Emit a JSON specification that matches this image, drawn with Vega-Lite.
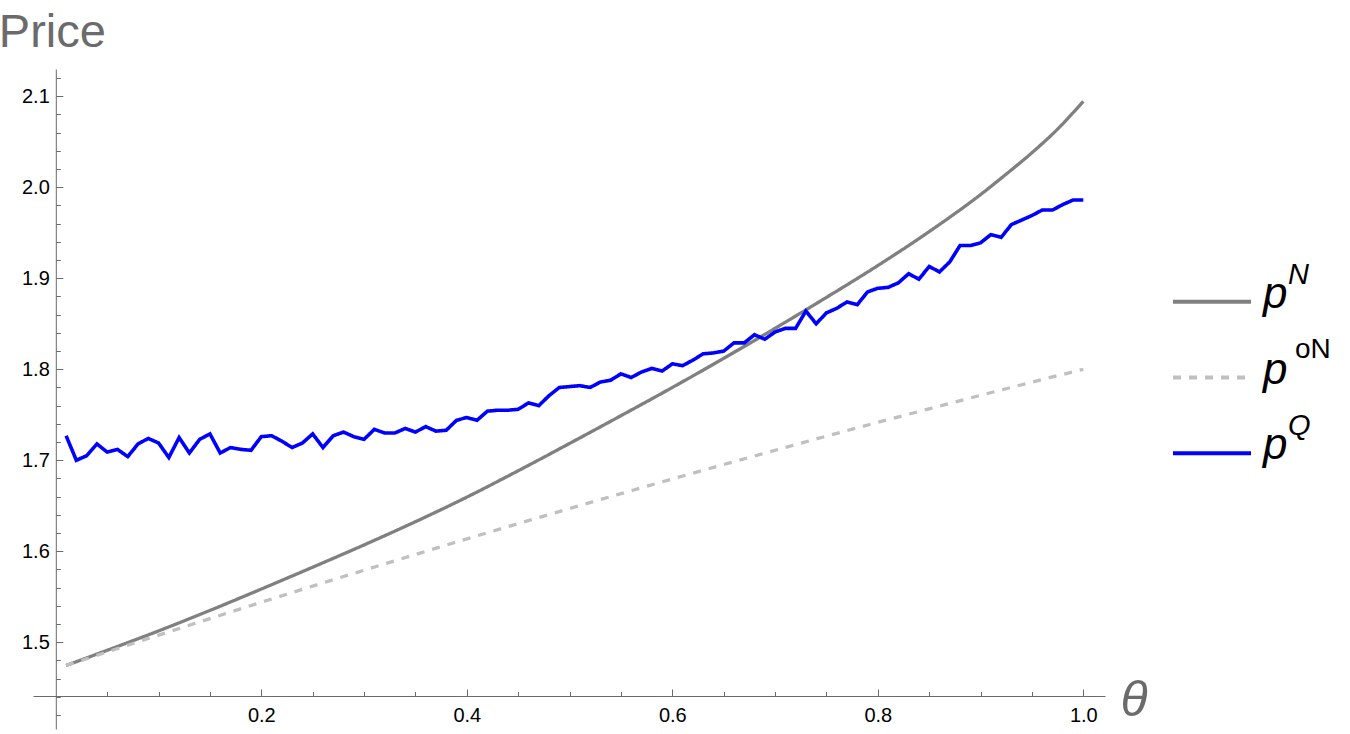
{
  "$schema": "https://vega.github.io/schema/vega-lite/v6.json",
  "width": 1072,
  "height": 660,
  "autosize": {"type": "none"},
  "padding": {"left": 33, "top": 69, "right": 245, "bottom": 5},
  "background": "white",
  "config": {"view": {"stroke": null}, "font": "Liberation Sans"},
  "datasets": {
    "curves": [
      {"series": "pN", "theta": 0.01, "price": 1.4745},
      {"series": "pN", "theta": 0.05, "price": 1.4912},
      {"series": "pN", "theta": 0.10, "price": 1.5125},
      {"series": "pN", "theta": 0.15, "price": 1.5350},
      {"series": "pN", "theta": 0.20, "price": 1.5585},
      {"series": "pN", "theta": 0.25, "price": 1.5825},
      {"series": "pN", "theta": 0.30, "price": 1.6070},
      {"series": "pN", "theta": 0.35, "price": 1.6325},
      {"series": "pN", "theta": 0.40, "price": 1.6595},
      {"series": "pN", "theta": 0.45, "price": 1.6885},
      {"series": "pN", "theta": 0.50, "price": 1.7185},
      {"series": "pN", "theta": 0.55, "price": 1.7490},
      {"series": "pN", "theta": 0.60, "price": 1.7800},
      {"series": "pN", "theta": 0.65, "price": 1.8120},
      {"series": "pN", "theta": 0.70, "price": 1.8450},
      {"series": "pN", "theta": 0.75, "price": 1.8790},
      {"series": "pN", "theta": 0.80, "price": 1.9140},
      {"series": "pN", "theta": 0.85, "price": 1.9513},
      {"series": "pN", "theta": 0.90, "price": 1.9920},
      {"series": "pN", "theta": 0.925, "price": 2.0145},
      {"series": "pN", "theta": 0.95, "price": 2.0380},
      {"series": "pN", "theta": 0.975, "price": 2.0640},
      {"series": "pN", "theta": 1.00, "price": 2.0945},
      {"series": "poN", "theta": 0.01, "price": 1.4745},
      {"series": "poN", "theta": 0.05, "price": 1.4894},
      {"series": "poN", "theta": 0.10, "price": 1.5078},
      {"series": "poN", "theta": 0.15, "price": 1.5260},
      {"series": "poN", "theta": 0.20, "price": 1.5440},
      {"series": "poN", "theta": 0.25, "price": 1.5617},
      {"series": "poN", "theta": 0.30, "price": 1.5792},
      {"series": "poN", "theta": 0.35, "price": 1.5965},
      {"series": "poN", "theta": 0.40, "price": 1.6136},
      {"series": "poN", "theta": 0.45, "price": 1.6304},
      {"series": "poN", "theta": 0.50, "price": 1.6470},
      {"series": "poN", "theta": 0.55, "price": 1.6633},
      {"series": "poN", "theta": 0.60, "price": 1.6795},
      {"series": "poN", "theta": 0.65, "price": 1.6953},
      {"series": "poN", "theta": 0.70, "price": 1.7110},
      {"series": "poN", "theta": 0.75, "price": 1.7265},
      {"series": "poN", "theta": 0.80, "price": 1.7417},
      {"series": "poN", "theta": 0.85, "price": 1.7566},
      {"series": "poN", "theta": 0.90, "price": 1.7714},
      {"series": "poN", "theta": 0.95, "price": 1.7859},
      {"series": "poN", "theta": 1.00, "price": 1.8000},
      {"series": "pQ", "theta": 0.01, "price": 1.727},
      {"series": "pQ", "theta": 0.02, "price": 1.700},
      {"series": "pQ", "theta": 0.03, "price": 1.705},
      {"series": "pQ", "theta": 0.04, "price": 1.718},
      {"series": "pQ", "theta": 0.05, "price": 1.709},
      {"series": "pQ", "theta": 0.06, "price": 1.712},
      {"series": "pQ", "theta": 0.07, "price": 1.704},
      {"series": "pQ", "theta": 0.08, "price": 1.718},
      {"series": "pQ", "theta": 0.09, "price": 1.724},
      {"series": "pQ", "theta": 0.10, "price": 1.719},
      {"series": "pQ", "theta": 0.11, "price": 1.703},
      {"series": "pQ", "theta": 0.12, "price": 1.725},
      {"series": "pQ", "theta": 0.13, "price": 1.708},
      {"series": "pQ", "theta": 0.14, "price": 1.723},
      {"series": "pQ", "theta": 0.15, "price": 1.729},
      {"series": "pQ", "theta": 0.16, "price": 1.708},
      {"series": "pQ", "theta": 0.17, "price": 1.714},
      {"series": "pQ", "theta": 0.18, "price": 1.712},
      {"series": "pQ", "theta": 0.19, "price": 1.711},
      {"series": "pQ", "theta": 0.20, "price": 1.726},
      {"series": "pQ", "theta": 0.21, "price": 1.727},
      {"series": "pQ", "theta": 0.22, "price": 1.721},
      {"series": "pQ", "theta": 0.23, "price": 1.714},
      {"series": "pQ", "theta": 0.24, "price": 1.719},
      {"series": "pQ", "theta": 0.25, "price": 1.729},
      {"series": "pQ", "theta": 0.26, "price": 1.714},
      {"series": "pQ", "theta": 0.27, "price": 1.727},
      {"series": "pQ", "theta": 0.28, "price": 1.731},
      {"series": "pQ", "theta": 0.29, "price": 1.726},
      {"series": "pQ", "theta": 0.30, "price": 1.723},
      {"series": "pQ", "theta": 0.31, "price": 1.734},
      {"series": "pQ", "theta": 0.32, "price": 1.730},
      {"series": "pQ", "theta": 0.33, "price": 1.730},
      {"series": "pQ", "theta": 0.34, "price": 1.735},
      {"series": "pQ", "theta": 0.35, "price": 1.731},
      {"series": "pQ", "theta": 0.36, "price": 1.737},
      {"series": "pQ", "theta": 0.37, "price": 1.732},
      {"series": "pQ", "theta": 0.38, "price": 1.733},
      {"series": "pQ", "theta": 0.39, "price": 1.744},
      {"series": "pQ", "theta": 0.40, "price": 1.747},
      {"series": "pQ", "theta": 0.41, "price": 1.744},
      {"series": "pQ", "theta": 0.42, "price": 1.754},
      {"series": "pQ", "theta": 0.43, "price": 1.755},
      {"series": "pQ", "theta": 0.44, "price": 1.755},
      {"series": "pQ", "theta": 0.45, "price": 1.756},
      {"series": "pQ", "theta": 0.46, "price": 1.763},
      {"series": "pQ", "theta": 0.47, "price": 1.760},
      {"series": "pQ", "theta": 0.48, "price": 1.771},
      {"series": "pQ", "theta": 0.49, "price": 1.780},
      {"series": "pQ", "theta": 0.50, "price": 1.781},
      {"series": "pQ", "theta": 0.51, "price": 1.782},
      {"series": "pQ", "theta": 0.52, "price": 1.780},
      {"series": "pQ", "theta": 0.53, "price": 1.786},
      {"series": "pQ", "theta": 0.54, "price": 1.788},
      {"series": "pQ", "theta": 0.55, "price": 1.795},
      {"series": "pQ", "theta": 0.56, "price": 1.791},
      {"series": "pQ", "theta": 0.57, "price": 1.797},
      {"series": "pQ", "theta": 0.58, "price": 1.801},
      {"series": "pQ", "theta": 0.59, "price": 1.798},
      {"series": "pQ", "theta": 0.60, "price": 1.806},
      {"series": "pQ", "theta": 0.61, "price": 1.804},
      {"series": "pQ", "theta": 0.62, "price": 1.810},
      {"series": "pQ", "theta": 0.63, "price": 1.817},
      {"series": "pQ", "theta": 0.64, "price": 1.818},
      {"series": "pQ", "theta": 0.65, "price": 1.820},
      {"series": "pQ", "theta": 0.66, "price": 1.829},
      {"series": "pQ", "theta": 0.67, "price": 1.829},
      {"series": "pQ", "theta": 0.68, "price": 1.838},
      {"series": "pQ", "theta": 0.69, "price": 1.833},
      {"series": "pQ", "theta": 0.70, "price": 1.841},
      {"series": "pQ", "theta": 0.71, "price": 1.845},
      {"series": "pQ", "theta": 0.72, "price": 1.845},
      {"series": "pQ", "theta": 0.73, "price": 1.864},
      {"series": "pQ", "theta": 0.74, "price": 1.850},
      {"series": "pQ", "theta": 0.75, "price": 1.862},
      {"series": "pQ", "theta": 0.76, "price": 1.867},
      {"series": "pQ", "theta": 0.77, "price": 1.874},
      {"series": "pQ", "theta": 0.78, "price": 1.871},
      {"series": "pQ", "theta": 0.79, "price": 1.885},
      {"series": "pQ", "theta": 0.80, "price": 1.889},
      {"series": "pQ", "theta": 0.81, "price": 1.890},
      {"series": "pQ", "theta": 0.82, "price": 1.895},
      {"series": "pQ", "theta": 0.83, "price": 1.905},
      {"series": "pQ", "theta": 0.84, "price": 1.899},
      {"series": "pQ", "theta": 0.85, "price": 1.913},
      {"series": "pQ", "theta": 0.86, "price": 1.907},
      {"series": "pQ", "theta": 0.87, "price": 1.918},
      {"series": "pQ", "theta": 0.88, "price": 1.936},
      {"series": "pQ", "theta": 0.89, "price": 1.936},
      {"series": "pQ", "theta": 0.90, "price": 1.939},
      {"series": "pQ", "theta": 0.91, "price": 1.948},
      {"series": "pQ", "theta": 0.92, "price": 1.945},
      {"series": "pQ", "theta": 0.93, "price": 1.959},
      {"series": "pQ", "theta": 0.94, "price": 1.964},
      {"series": "pQ", "theta": 0.95, "price": 1.969},
      {"series": "pQ", "theta": 0.96, "price": 1.975},
      {"series": "pQ", "theta": 0.97, "price": 1.975},
      {"series": "pQ", "theta": 0.98, "price": 1.981},
      {"series": "pQ", "theta": 0.99, "price": 1.986},
      {"series": "pQ", "theta": 1.00, "price": 1.986}
    ],
    "legend": [
      {"series": "pN", "sup": "N"},
      {"series": "poN", "sup": "oN"},
      {"series": "pQ", "sup": "Q"}
    ]
  },
  "layer": [
    {
      "data": {"name": "curves"},
      "encoding": {
        "x": {
          "field": "theta",
          "type": "quantitative",
          "scale": {"domain": [-0.0222, 1.0211], "nice": false, "zero": false},
          "axis": {
            "values": [0.05, 0.1, 0.15, 0.2, 0.25, 0.3, 0.35, 0.4, 0.45, 0.5, 0.55, 0.6, 0.65, 0.7, 0.75, 0.8, 0.85, 0.9, 0.95, 1.0],
            "labelExpr": "abs(datum.value*5 - round(datum.value*5)) < 1e-6 ? format(datum.value, '.1f') : ''",
            "tickSize": {"condition": {"test": "abs(datum.value*5 - round(datum.value*5)) < 1e-6", "value": -7}, "value": -4.5},
            "labelPadding": 16.8,
            "offset": -33,
            "grid": false,
            "domainColor": "#6b6b6b",
            "tickColor": "#6b6b6b",
            "domainWidth": 1,
            "tickWidth": 1,
            "labelFont": "Liberation Sans",
            "labelFontSize": 20,
            "labelColor": "#000000",
            "labelOverlap": false,
            "labelFlush": false,
            "title": "θ",
            "titleFont": "Liberation Sans",
            "titleFontStyle": "italic",
            "titleFontSize": 50,
            "titleFontWeight": "normal",
            "titleColor": "#6b6b6b",
            "titleAlign": "left",
            "titleBaseline": "alphabetic",
            "titleX": 1087,
            "titleY": 19
          }
        },
        "y": {
          "field": "price",
          "type": "quantitative",
          "scale": {"domain": [1.4047, 2.13], "nice": false, "zero": false},
          "axis": {
            "values": [1.42, 1.44, 1.46, 1.48, 1.5, 1.52, 1.54, 1.56, 1.58, 1.6, 1.62, 1.64, 1.66, 1.68, 1.7, 1.72, 1.74, 1.76, 1.78, 1.8, 1.82, 1.84, 1.86, 1.88, 1.9, 1.92, 1.94, 1.96, 1.98, 2.0, 2.02, 2.04, 2.06, 2.08, 2.1, 2.12],
            "labelExpr": "abs(datum.value*10 - round(datum.value*10)) < 1e-6 ? format(datum.value, '.1f') : ''",
            "tickSize": {"condition": {"test": "abs(datum.value*10 - round(datum.value*10)) < 1e-6", "value": -7}, "value": -4.5},
            "labelPadding": 13.5,
            "offset": -22.8,
            "grid": false,
            "domainColor": "#6b6b6b",
            "tickColor": "#6b6b6b",
            "domainWidth": 1,
            "tickWidth": 1,
            "labelFont": "Liberation Sans",
            "labelFontSize": 20,
            "labelColor": "#000000",
            "labelOverlap": false,
            "labelFlush": false,
            "title": "Price",
            "titleFont": "Liberation Sans",
            "titleFontSize": 47,
            "titleFontWeight": "normal",
            "titleColor": "#6b6b6b",
            "titleAngle": 0,
            "titleAlign": "left",
            "titleBaseline": "alphabetic",
            "titleX": -57.5,
            "titleY": -22.3
          }
        },
        "color": {
          "field": "series",
          "type": "nominal",
          "scale": {"domain": ["pN", "poN", "pQ"], "range": ["#808080", "#c0c0c0", "#0000ff"]},
          "legend": null
        },
        "strokeDash": {
          "field": "series",
          "type": "nominal",
          "scale": {"domain": ["pN", "poN", "pQ"], "range": [[1, 0], [8, 8], [1, 0]]},
          "legend": null
        }
      },
      "layer": [
        {
          "transform": [{"filter": "datum.series !== 'pQ'"}],
          "mark": {"type": "line", "interpolate": "monotone", "strokeWidth": 3.3}
        },
        {
          "transform": [{"filter": "datum.series === 'pQ'"}],
          "mark": {"type": "line", "strokeWidth": 3.6}
        }
      ]
    },
    {
      "data": {"name": "legend"},
      "encoding": {
        "y": {
          "field": "series",
          "type": "nominal",
          "scale": {"type": "point", "domain": ["pN", "poN", "pQ"], "range": [232.7, 384.3], "padding": 0},
          "axis": null
        }
      },
      "layer": [
        {
          "mark": {"type": "rule", "strokeWidth": 4},
          "encoding": {
            "x": {"datum": 0, "type": "quantitative", "scale": {"domain": [0, 1], "range": [1140, 1218], "nice": false, "zero": false}, "axis": null},
            "x2": {"datum": 1},
            "color": {"field": "series", "type": "nominal", "legend": null},
            "strokeDash": {"field": "series", "type": "nominal", "legend": null}
          }
        },
        {
          "mark": {"type": "text", "text": "p", "font": "Liberation Sans", "fontStyle": "italic", "fontSize": 44, "align": "left", "baseline": "alphabetic", "dx": 12, "dy": 6, "color": "#000000"},
          "encoding": {"x": {"datum": 1, "type": "quantitative"}}
        },
        {
          "transform": [{"filter": "datum.series !== 'poN'"}],
          "mark": {"type": "text", "font": "Liberation Sans", "fontStyle": "italic", "fontSize": 29, "align": "left", "baseline": "alphabetic", "dx": 37, "dy": -18, "color": "#000000"},
          "encoding": {"x": {"datum": 1, "type": "quantitative"}, "text": {"field": "sup"}}
        },
        {
          "transform": [{"filter": "datum.series === 'poN'"}],
          "mark": {"type": "text", "font": "Liberation Sans", "fontStyle": "normal", "fontSize": 28, "align": "left", "baseline": "alphabetic", "dx": 44, "dy": -20, "color": "#000000"},
          "encoding": {"x": {"datum": 1, "type": "quantitative"}, "text": {"field": "sup"}}
        }
      ]
    }
  ],
  "resolve": {"scale": {"x": "independent", "y": "independent"}}
}
